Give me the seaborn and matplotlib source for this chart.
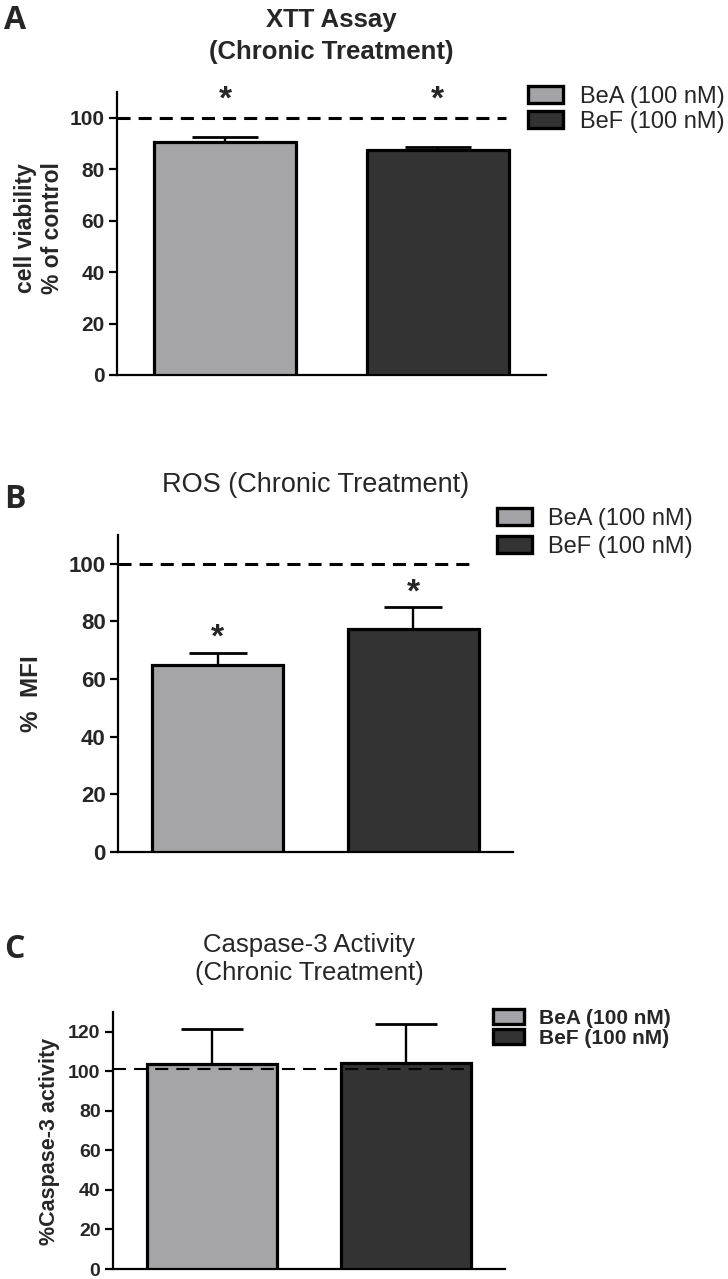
import numpy as np
import pandas as pd
import matplotlib
matplotlib.use("Agg")
import matplotlib.pyplot as plt
from matplotlib.patches import Patch
import seaborn as sns

# ---------------- data ----------------
groups = ["BeA (100 nM)", "BeF (100 nM)"]
colors = ["#a4a4a8", "#333333"]

xtt_mean = [90.4, 87.6]
xtt_err = [2.3, 1.2]
xtt_stars = [110.9, 110.9]
xtt_ref = 100

ros_mean = [64.9, 77.4]
ros_err = [4.2, 7.7]
ros_stars = [77.8, 93.4]
ros_ref = 100

casp_mean = [103.6, 104.2]
casp_err = [17.6, 19.7]
casp_stars = []
casp_ref = 101

xtt_ticks = [0, 20, 40, 60, 80, 100]
ros_ticks = [0, 20, 40, 60, 80, 100]
casp_ticks = [0, 20, 40, 60, 80, 100, 120]

# ---------------- style ----------------
sns.set_style("ticks")
plt.rcParams["font.family"] = ["Liberation Sans", "DejaVu Sans"]
plt.rcParams["axes.linewidth"] = 1.6

W, H = 728, 1279
fig = plt.figure(figsize=(W / 100, H / 100), dpi=100)


def ax_rect(l, r, t, b):
    return [l / W, 1 - b / H, (r - l) / W, (b - t) / H]


def fx(px):
    return px / W


def fy(px):
    return 1 - px / H


def panel(rect, means, errs, stars, ref, ticks, ymax, tick_fs, cap, ref_lw, star_fs):
    ax = fig.add_axes(rect)
    df = pd.DataFrame({"group": groups, "value": means})
    sns.barplot(data=df, x="group", y="value", hue="group", palette=colors,
                order=groups, hue_order=groups, width=0.67, errorbar=None,
                edgecolor="black", linewidth=2.3, legend=False, ax=ax, zorder=3)
    xs = np.arange(len(groups))
    ax.errorbar(xs, means, yerr=[np.zeros(len(errs)), errs], fmt="none",
                ecolor="black", elinewidth=1.7, capsize=cap, capthick=2.0, zorder=2)
    ax.set_xlim(-0.51, 1.51)
    ax.set_ylim(0, ymax)
    ax.plot([-0.51, 1.32], [ref, ref], color="black", lw=ref_lw,
            dashes=(9.4 / ref_lw, 5.8 / ref_lw), zorder=5, clip_on=False)
    for i, s in enumerate(stars):
        ax.annotate("*", (xs[i], s), xytext=(0, -0.57 * star_fs),
                    textcoords="offset points", ha="center", va="baseline",
                    fontsize=star_fs, fontweight="bold", annotation_clip=False)
    ax.set_yticks(ticks)
    ax.set_yticklabels([str(t) for t in ticks], fontsize=tick_fs, fontweight="bold")
    ax.set_xticks([])
    ax.set_xlabel("")
    ax.set_ylabel("")
    ax.tick_params(axis="y", length=6, width=1.6, pad=3, color="black")
    sns.despine(ax=ax)
    for sp in ("left", "bottom"):
        ax.spines[sp].set_color("black")
        ax.spines[sp].set_linewidth(1.6)
    return ax


def legend(ax, x_px, y_px, fs, weight, pad, spacing):
    handles = [Patch(facecolor=c, edgecolor="black", linewidth=2.4) for c in colors]
    fig.legend(handles, groups, loc="upper left",
               bbox_to_anchor=(fx(x_px), fy(y_px)), bbox_transform=fig.transFigure,
               frameon=False, borderpad=0, borderaxespad=0,
               handlelength=1.5, handleheight=0.75, handletextpad=pad,
               labelspacing=spacing,
               prop={"size": fs, "weight": weight, "family": ["Liberation Sans", "DejaVu Sans"]})


# ---------- Panel A ----------
axA = panel(ax_rect(117, 546, 92, 375), xtt_mean, xtt_err, xtt_stars, xtt_ref,
            xtt_ticks, 110, 15, 24, 2.2, 24)
fig.text(fx(331), fy(20), "XTT Assay", ha="center", va="center",
         fontsize=18.5, fontweight="bold")
fig.text(fx(331), fy(52), "(Chronic Treatment)", ha="center", va="center",
         fontsize=18.5, fontweight="bold")
fig.text(fx(39), fy(228), "cell viability\n% of control", ha="center", va="center",
         rotation=90, fontsize=16.5, fontweight="bold", linespacing=1.2)
legend(axA, 528, 86, 17, "normal", 0.7, 0.12)
fig.text(fx(4), fy(29), "A", fontsize=23, fontweight="bold",
         family=["Open Sans", "DejaVu Sans"], va="baseline")

# ---------- Panel B ----------
axB = panel(ax_rect(118, 513, 535, 852), ros_mean, ros_err, ros_stars, ros_ref,
            ros_ticks, 110, 16, 21, 2.2, 24)
fig.text(fx(316), fy(485), "ROS (Chronic Treatment)", ha="center", va="center",
         fontsize=19.5)
fig.text(fx(32), fy(694), "%  MFI", ha="center", va="center", rotation=90,
         fontsize=17.5, fontweight="bold")
legend(axB, 497, 508, 17, "normal", 0.65, 0.25)
fig.text(fx(4), fy(508), "B", fontsize=23, fontweight="bold",
         family=["Open Sans", "DejaVu Sans"], va="baseline")

# ---------- Panel C ----------
axC = panel(ax_rect(113, 505, 1012, 1269), casp_mean, casp_err, casp_stars, casp_ref,
            casp_ticks, 130, 14, 22, 1.5, 20)
fig.text(fx(309), fy(945), "Caspase-3 Activity", ha="center", va="center", fontsize=18.5)
fig.text(fx(309), fy(973), "(Chronic Treatment)", ha="center", va="center", fontsize=18.5)
fig.text(fx(50), fy(1141), "%Caspase-3 activity", ha="center", va="center",
         rotation=90, fontsize=15.5, fontweight="bold")
legend(axC, 493, 1009, 15, "bold", 0.7, 0.05)
fig.text(fx(4), fy(958), "C", fontsize=23, fontweight="bold",
         family=["Open Sans", "DejaVu Sans"], va="baseline")

fig.savefig("out.png", dpi=100, facecolor="white")
